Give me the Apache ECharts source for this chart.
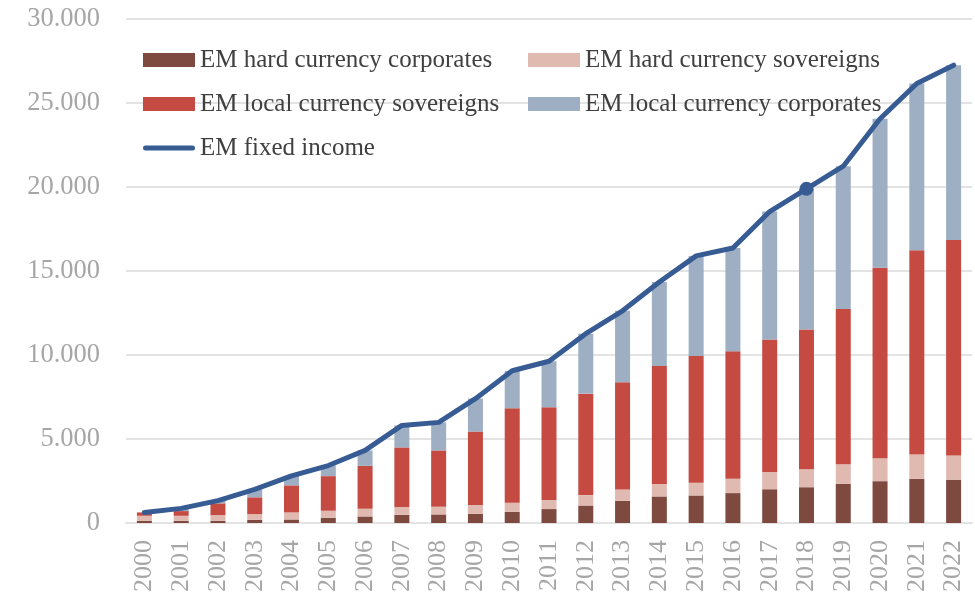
<!DOCTYPE html>
<html>
<head>
<meta charset="utf-8">
<script src="https://cdn.jsdelivr.net/npm/echarts@6/dist/echarts.min.js"></script>
<style>html,body{margin:0;padding:0;background:#fff}#c{width:975px;height:603px}</style>
</head>
<body>
<div id="c"></div>
<script>
const years = ['2000','2001','2002','2003','2004','2005','2006','2007','2008','2009','2010','2011','2012','2013','2014','2015','2016','2017','2018','2019','2020','2021','2022'];
const hardCorp = [130,130,130,190,210,310,390,490,510,550,670,830,1040,1320,1580,1640,1780,2010,2130,2330,2490,2630,2580];
const hardSov  = [300,300,340,340,420,420,460,460,460,520,540,540,620,680,740,760,850,1030,1070,1170,1370,1440,1440];
const localSov = [200,280,700,1000,1610,2060,2550,3550,3350,4370,5620,5520,6040,6380,7020,7540,7590,7890,8320,9240,11340,12160,12830];
const localCorp= [0,160,160,480,560,640,920,1310,1670,1970,2230,2740,3570,4250,5000,5960,6150,7610,8370,8500,8860,9930,10400];
const fixedIncome = [630,870,1330,2000,2800,3420,4320,5810,5990,7400,9060,9630,11270,12630,14340,15900,16370,18540,19890,21240,24060,26160,27250];
const highlightYear = '2018';
const yTicks = {min: 0, max: 30000, interval: 5000};

const names = ['EM hard currency corporates','EM hard currency sovereigns','EM local currency sovereigns','EM local currency corporates','EM fixed income'];
const colors = ['#7e4a40','#e0b9b0','#c54a42','#9eafc4','#375b93'];
const FONT = 'Liberation Serif';

const chart = echarts.init(document.getElementById('c'), null, {renderer:'canvas'});
const barSeries = [hardCorp, hardSov, localSov, localCorp].map((d,i)=>({
  name: names[i], type:'bar', stack:'total', barWidth:15, data:d,
  itemStyle:{color:colors[i]}
}));
const lineData = fixedIncome.map((v,i)=> years[i]===highlightYear ? {value:v, symbol:'circle', symbolSize:14, itemStyle:{color:colors[4]}} : v);
const legendText = {fontFamily:FONT, fontSize:25, color:'#404040', lineHeight:26};
const capsule = 'path://M2.5,0 H49.5 A2.5,2.5 0 0 1 49.5,5 H2.5 A2.5,2.5 0 0 1 2.5,0 Z';
chart.setOption({
  animation:false,
  textStyle:{fontFamily:FONT},
  grid:{left:126, right:3, top:19, bottom:80, containLabel:false},
  legend:[
    {left:138, top:42, orient:'vertical', icon:'rect', itemWidth:52, itemHeight:14, itemGap:18, textStyle:legendText,
     data:[names[0], names[2]]},
    {left:523, top:42, orient:'vertical', icon:'rect', itemWidth:52, itemHeight:14, itemGap:18, textStyle:legendText,
     data:[names[1], names[3]]},
    {left:138, top:130, orient:'vertical', itemWidth:52, itemHeight:5, textStyle:legendText,
     data:[{name:names[4], icon:capsule, itemStyle:{color:colors[4]}}]}
  ],
  xAxis:{type:'category', data:years,
    axisLine:{lineStyle:{color:'#e3e3e3', width:2}}, axisTick:{show:false},
    axisLabel:{rotate:90, margin:17, color:'#a6a6a6', fontSize:26, fontFamily:FONT}},
  yAxis:{type:'value', min:yTicks.min, max:yTicks.max, interval:yTicks.interval,
    axisLine:{show:false}, axisTick:{show:false},
    splitLine:{lineStyle:{color:'#e3e3e3', width:2}},
    axisLabel:{margin:26, color:'#a6a6a6', fontSize:26.5, fontFamily:FONT,
      formatter:v=> v===0 ? '0' : (v/1000)+'.000'}},
  series:[...barSeries, {
    name:names[4], type:'line', data:lineData, symbol:'none', z:5,
    lineStyle:{color:colors[4], width:5, cap:'round', join:'round'},
    itemStyle:{color:colors[4]}
  }]
});
</script>
</body>
</html>
